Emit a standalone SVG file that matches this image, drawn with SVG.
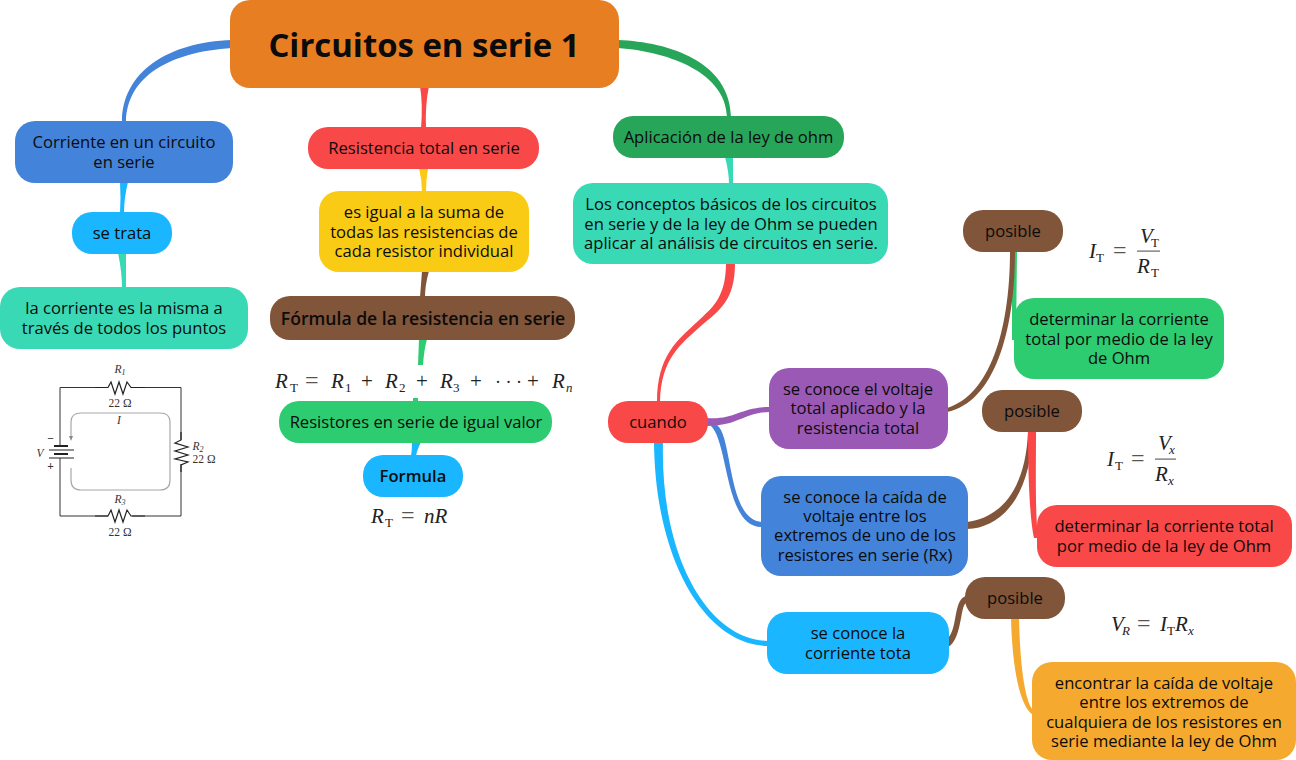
<svg xmlns="http://www.w3.org/2000/svg" width="1296" height="760" viewBox="0 0 1296 760">
<style>
text{font-family:"Open Sans","Noto Sans","DejaVu Sans",sans-serif;font-size:16.600px;fill:#0b0b0b;text-anchor:middle}
.b{font-weight:600;font-size:17.600px}
.f{font-weight:600;font-size:16.600px}
.m{font-family:"Liberation Serif","Times New Roman",serif;font-size:21px;fill:#222;text-anchor:start}
.i{font-style:italic}
.s{font-size:13px}
.e{font-size:24px;fill:#555}
.d{font-size:18px}
.c{font-family:"Liberation Serif",serif;font-size:11.500px;fill:#333;text-anchor:middle}
.cs{font-size:8px}
.k{fill:none;stroke:#333;stroke-width:1}
.r{fill:none;stroke:#222;stroke-width:1.200}
</style>
<rect width="1296" height="760" fill="#fff"/>
<g id="connectors" stroke="none">
<path fill="#4383d9" d="M232 40C168 42 122 72 122 122H126C127 76 170 52 232 48Z"/>
<path fill="#f94848" d="M420 86Q423 105 421 128H426Q425 105 429 86Z"/>
<path fill="#f9cb15" d="M419 168Q422 180 422 192H426Q426 180 428 168Z"/>
<path fill="#805539" d="M422 271Q421 285 420 297H425Q425 285 429 271Z"/>
<path fill="#2ecc71" d="M419 339L418 365H423Q424 350 427 339Z"/>
<path fill="#2ecc71" d="M413 398V402H418V398Z"/>
<path fill="#1ab6ff" d="M412 442Q412 450 411 456H416Q417 450 421 442Z"/>
<path fill="#1ab6ff" d="M120 182Q121 198 120 213H124Q124 198 128 182Z"/>
<path fill="#39d9b6" d="M118 253Q122 272 122 288H126Q126 272 126 253Z"/>
<path fill="#27a65a" d="M618 40C670 42 730 62 731 117H727C726 74 672 52 618 48Z"/>
<path fill="#39d9b6" d="M725 157Q729 172 729 184H733Q733 172 733 157Z"/>
<path fill="#f94848" d="M726 263C726 298 712 308 697 322C678 340 657 355 657 402H660C661 358 681 344 702 325C720 310 735 300 735 263Z"/>
<path fill="#9b59b6" d="M707 418C735 420 740 407 770 407V412C745 412 738 426 707 426Z"/>
<path fill="#4383d9" d="M710 425H717C733 437 727 520 762 522V527C724 528 729 440 710 425Z"/>
<path fill="#1ab6ff" d="M654 442C655 560 705 645 768 646V641C710 640 660 560 663 442Z"/>
<path fill="#2ecc71" d="M1012 251L1012 340H1016L1017 251Z"/>
<path fill="#805539" d="M1010 251C1010 330 990 395 947 408V412C995 402 1015 330 1015 251Z"/>
<path fill="#805539" d="M967 522C1000 518 1026 490 1028 431H1032C1032 490 1005 528 967 529Z"/>
<path fill="#f94848" d="M1028 431C1028 480 1030 520 1034 538H1038C1035 510 1036 470 1036 431Z"/>
<path fill="#805539" d="M948 638C958 628 953 600 966 596V603C960 606 962 640 948 647Z"/>
<path fill="#f5a92e" d="M1011 618C1012 660 1018 705 1033 715V710C1024 700 1020 660 1019 618Z"/>
</g>
<g id="n-title"><rect x="230" y="0" width="389" height="88" rx="20" fill="#e87e22"/><text x="424" y="57" style="font-size:32.900px;font-weight:700">Circuitos en serie 1</text></g>
<g id="n-corriente"><rect x="15" y="121" width="218" height="62" rx="20" fill="#4383d9"/><text x="124" y="147.500">Corriente en un circuito</text><text x="124" y="167.500">en serie</text></g>
<g id="n-setrata"><rect x="72" y="212" width="100" height="42" rx="20" fill="#1ab6ff"/><text x="122" y="238.500">se trata</text></g>
<g id="n-misma"><rect x="0" y="287" width="248" height="62" rx="20" fill="#39d9b6"/><text x="124" y="313.500">la corriente es la misma a</text><text x="124" y="333.500">través de todos los puntos</text></g>
<g id="n-resistencia"><rect x="308" y="127" width="231" height="42" rx="20" fill="#f94848"/><text x="424" y="153.500">Resistencia total en serie</text></g>
<g id="n-igual"><rect x="319" y="191" width="210" height="81" rx="20" fill="#f9cb15"/><text x="424" y="218">es igual a la suma de</text><text x="424" y="237.500">todas las resistencias de</text><text x="424" y="256.500">cada resistor individual</text></g>
<g id="n-formula-res"><rect x="270" y="296" width="305" height="44" rx="20" fill="#805539"/><text x="423" y="325" class="b">Fórmula de la resistencia en serie</text></g>
<g id="n-igualvalor"><rect x="279" y="401" width="273" height="42" rx="20" fill="#2ecc71"/><text x="416" y="428">Resistores en serie de igual valor</text></g>
<g id="n-formula"><rect x="363" y="455" width="100" height="42" rx="20" fill="#1ab6ff"/><text x="413" y="482" class="f">Formula</text></g>
<g id="n-aplicacion"><rect x="613" y="116" width="231" height="42" rx="20" fill="#27a65a"/><text x="728.500" y="143">Aplicación de la ley de ohm</text></g>
<g id="n-conceptos"><rect x="573" y="183" width="315" height="81" rx="20" fill="#39d9b6"/><text x="731" y="210">Los conceptos básicos de los circuitos</text><text x="731" y="230">en serie y de la ley de Ohm se pueden</text><text x="731" y="249">aplicar al análisis de circuitos en serie.</text></g>
<g id="n-cuando"><rect x="608" y="401" width="100" height="42" rx="20" fill="#f94848"/><text x="658" y="428">cuando</text></g>
<g id="n-voltaje"><rect x="769" y="368" width="179" height="81" rx="20" fill="#9b59b6"/><text x="858" y="395">se conoce el voltaje</text><text x="858" y="414">total aplicado y la</text><text x="858" y="434">resistencia total</text></g>
<g id="n-caida"><rect x="761" y="476" width="207" height="100" rx="20" fill="#4383d9"/><text x="865" y="503">se conoce la caída de</text><text x="865" y="522">voltaje entre los</text><text x="865" y="541">extremos de uno de los</text><text x="865" y="561">resistores en serie (Rx)</text></g>
<g id="n-tota"><rect x="767" y="612" width="182" height="62" rx="20" fill="#1ab6ff"/><text x="858" y="639">se conoce la</text><text x="858" y="659">corriente tota</text></g>
<g id="n-pos1"><rect x="963" y="210" width="100" height="42" rx="20" fill="#805539"/><text x="1013" y="237">posible</text></g>
<g id="n-pos2"><rect x="982" y="390" width="100" height="42" rx="20" fill="#805539"/><text x="1032" y="417">posible</text></g>
<g id="n-pos3"><rect x="965" y="577" width="100" height="42" rx="20" fill="#805539"/><text x="1015" y="604">posible</text></g>
<g id="n-det1"><rect x="1014" y="298" width="210" height="81" rx="20" fill="#2ecc71"/><text x="1119" y="325">determinar la corriente</text><text x="1119" y="345">total por medio de la ley</text><text x="1119" y="364">de Ohm</text></g>
<g id="n-det2"><rect x="1037" y="505" width="255" height="62" rx="20" fill="#f94848"/><text x="1164" y="532">determinar la corriente total</text><text x="1164" y="552">por medio de la ley de Ohm</text></g>
<g id="n-enc"><rect x="1032" y="662" width="264" height="98" rx="20" fill="#f5a92e"/><text x="1164" y="689">encontrar la caída de voltaje</text><text x="1164" y="708">entre los extremos de</text><text x="1164" y="728">cualquiera de los resistores en</text><text x="1164" y="747">serie mediante la ley de Ohm</text></g>
<g id="formulas">
<text class="m"><tspan class="i" x="275" y="388">R</tspan><tspan class="s" x="290" y="392">T</tspan><tspan class="e" x="305" y="388">=</tspan><tspan class="i" x="331" y="388">R</tspan><tspan class="s" x="345" y="392">1</tspan><tspan x="361" y="388">+</tspan><tspan class="i" x="385" y="388">R</tspan><tspan class="s" x="399" y="392">2</tspan><tspan x="416" y="388">+</tspan><tspan class="i" x="440" y="388">R</tspan><tspan class="s" x="453" y="392">3</tspan><tspan x="470" y="388">+</tspan><tspan class="d" x="495" y="388">· · ·</tspan><tspan x="527" y="388">+</tspan><tspan class="i" x="552" y="388">R</tspan><tspan class="s i" x="566" y="392">n</tspan></text>
<text class="m"><tspan class="i" x="371" y="523">R</tspan><tspan class="s" x="385" y="527">T</tspan><tspan class="e" x="401" y="523">=</tspan><tspan class="i" x="424" y="523">nR</tspan></text>
<text class="m"><tspan class="i" x="1089" y="258">I</tspan><tspan class="s" x="1096" y="262">T</tspan><tspan class="e" x="1113" y="258">=</tspan></text>
<text class="m"><tspan class="i" x="1140" y="243">V</tspan><tspan class="s" x="1151" y="247">T</tspan></text>
<rect x="1137" y="250.500" width="23" height="1.200" fill="#666"/>
<text class="m"><tspan class="i" x="1137" y="273">R</tspan><tspan class="s" x="1151" y="277">T</tspan></text>
<text class="m"><tspan class="i" x="1107" y="466">I</tspan><tspan class="s" x="1115" y="470">T</tspan><tspan class="e" x="1131" y="466">=</tspan></text>
<text class="m"><tspan class="i" x="1158" y="450">V</tspan><tspan class="s i" x="1169" y="454">x</tspan></text>
<rect x="1155" y="458.500" width="21" height="1.200" fill="#666"/>
<text class="m"><tspan class="i" x="1155" y="481">R</tspan><tspan class="s i" x="1168" y="485">x</tspan></text>
<text class="m"><tspan class="i" x="1111" y="631">V</tspan><tspan class="s i" x="1122" y="635">R</tspan><tspan class="e" x="1137" y="631">=</tspan><tspan class="i" x="1160" y="631">I</tspan><tspan class="s" x="1167" y="635">T</tspan><tspan class="i" x="1175" y="631">R</tspan><tspan class="s i" x="1188" y="635">x</tspan></text>
</g>
<g id="circuit">
<path class="k" d="M60 446V387.500H108M132 387.500H181V440M181 464V516H132M108 516H60V458"/>
<path class="r" d="M95 387.500H108L111 382L115 394L119 382L123 394L127 382L131 387.500H145M95 516H108L111 510L115 522L119 510L123 522L127 510L131 516H145M181 432V440L175 443L188 447L175 451L188 455L175 459L188 462L181 465V472"/>
<path d="M54 446H68M54 454H68" stroke="#222" stroke-width="2" fill="none"/>
<path d="M49 450H74M49 458H74" stroke="#222" stroke-width="1.200" fill="none"/>
<path d="M71 438V422Q71 413 81 413H160Q170 413 170 422V480Q170 490 160 490H81Q71 490 71 480V468" fill="none" stroke="#a8a8a8" stroke-width="1.200"/>
<path d="M69 436H73L71 441Z" fill="#888"/>
<text class="c i" x="120" y="373">R<tspan class="cs" dy="2">1</tspan></text><text class="c" x="120" y="406.500">22 Ω</text>
<text class="c i" x="119" y="424">I</text><text class="c i" x="40" y="457">V</text>
<text class="c" style="font-weight:700" x="50.500" y="442">−</text><text class="c" style="font-weight:700" x="50.500" y="470">+</text>
<text class="c i" x="198" y="450">R<tspan class="cs" dy="2">2</tspan></text><text class="c" x="204" y="463">22 Ω</text>
<text class="c i" x="120" y="503">R<tspan class="cs" dy="2">3</tspan></text><text class="c" x="120" y="536">22 Ω</text>
</g>
</svg>
